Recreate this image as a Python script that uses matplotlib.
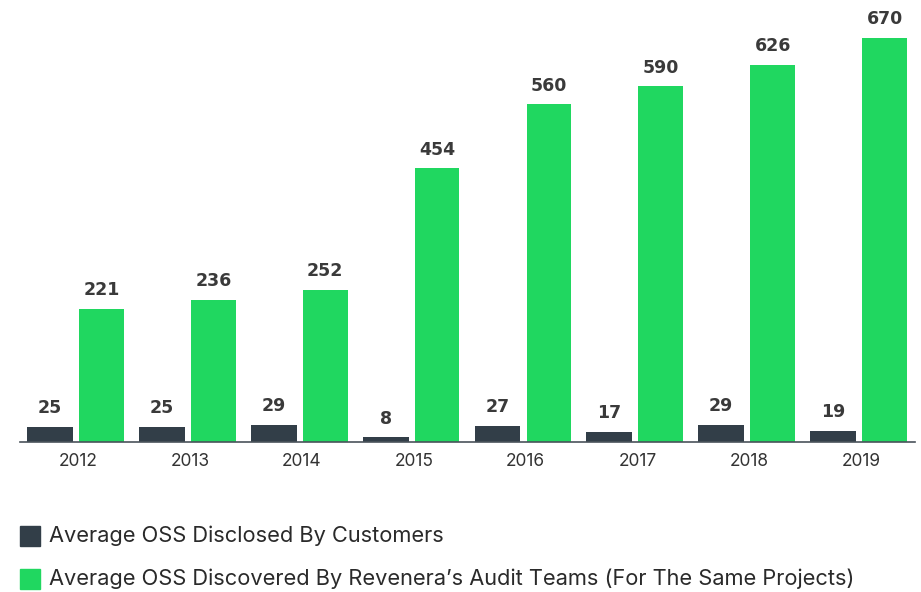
import matplotlib as mpl
mpl.use('Agg')
import matplotlib.pyplot as plt
import numpy as np

years = ['2012', '2013', '2014', '2015', '2016', '2017', '2018', '2019']
disclosed = [25, 25, 29, 8, 27, 17, 29, 19]
discovered = [221, 236, 252, 454, 560, 590, 626, 670]
legend_labels = ['Average OSS Disclosed By Customers',
                 'Average OSS Discovered By Revenera\u2019s Audit Teams (For The Same Projects)']

dark = '#323e48'
green = '#20d760'

plt.rcParams['font.family'] = ['Inter', 'DejaVu Sans']

fig = plt.figure(figsize=(9.21, 5.92), dpi=100)
ax = fig.add_axes([20 / 921, 1 - 442 / 592, 895 / 921, 442 / 592])

x = np.arange(len(years))
b1 = ax.bar(x - 0.232, disclosed, width=0.41, color=dark)
b2 = ax.bar(x + 0.228, discovered, width=0.40, color=green)

for bars in (b1, b2):
    for r in bars:
        ax.text(r.get_x() + r.get_width() / 2, r.get_height() + 16, str(int(r.get_height())),
                ha='center', va='bottom', fontsize=12.5, fontweight='bold', color='#3a3a3a',
                family='DejaVu Sans')

ax.set_xlim(-0.5, 7.5)
ax.set_ylim(0, 733)
ax.set_xticks(x + 0.02)
ax.set_xticklabels(years, fontsize=12.5, color='#333333')
ax.tick_params(axis='x', length=0, pad=8)
ax.set_yticks([])
for s in ['top', 'right', 'left']:
    ax.spines[s].set_visible(False)
ax.spines['bottom'].set_color('#4a535b')
ax.spines['bottom'].set_linewidth(1.2)

# legend drawn as squares + text in figure coords
for i, (lab, col) in enumerate(zip(legend_labels, [dark, green])):
    yc = 536 + i * 43
    fig.patches.append(mpl.patches.Rectangle((20 / 921, 1 - (yc + 10) / 592), 20 / 921, 20 / 592,
                                             transform=fig.transFigure, color=col))
    fig.text(49 / 921, 1 - yc / 592, lab, fontsize=15.7, color='#2a2a2a', va='center', ha='left')

plt.savefig('out.png', dpi=100)
plt.close('all')
